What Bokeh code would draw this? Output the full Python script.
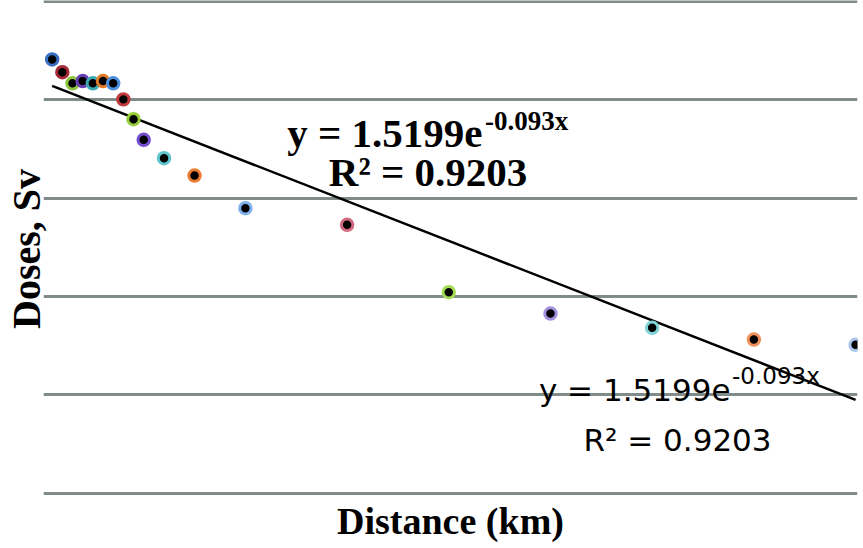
import math
from bokeh.plotting import figure
from bokeh.models import Range1d, FixedTicker, Label, ColumnDataSource
from bokeh.embed import file_html
from bokeh.resources import INLINE

# ---- data ----
distance_km = [1, 2, 3, 4, 5, 6, 7, 8, 9, 10, 12, 15, 20, 30, 40, 50, 60, 70, 80]
dose_sv = [2.57, 1.91, 1.47, 1.55, 1.47, 1.55, 1.47, 1.01, 0.635, 0.392,
           0.255, 0.170, 0.0791, 0.0537, 0.0111, 0.00673, 0.00482, 0.00366, 0.00324]
ring_colors = ["#3b6fc6", "#a8283a", "#8cc63f", "#6a40b8", "#3aaab4", "#e47a25",
               "#4a8fe0", "#c23a3e", "#94cc3a", "#7650d0", "#5cc6cc", "#ec7c34",
               "#80b0ea", "#d26a82", "#a4dc58", "#a290e0", "#80d4d8", "#f0905a", "#a9c6ec"]
grid_decades = [1e-4, 1e-3, 1e-2, 1e-1, 1, 10]
trend_a = 1.5199
trend_b = -0.093
eq_main = "y = 1.5199e"
eq_sup = "-0.093x"
eq_r2 = "R\u00b2 = 0.9203"

p = figure(width=863, height=548,
           x_range=Range1d(0.147, 80.19), y_range=Range1d(9.085e-5, 10.213),
           y_axis_type="log", output_backend="svg", toolbar_location=None,
           min_border_left=43, min_border_right=6, min_border_top=0, min_border_bottom=51)
p.outline_line_color = None
p.background_fill_color = "white"
p.border_fill_color = "white"

p.xgrid.visible = False
p.ygrid.ticker = FixedTicker(ticks=grid_decades)
p.ygrid.grid_line_color = "#7f8c89"
p.ygrid.grid_line_width = 3


def style_axis(ax, label, size):
    ax.ticker = FixedTicker(ticks=[])
    ax.axis_label = label
    ax.axis_label_text_font = "Liberation Serif"
    ax.axis_label_text_font_style = "bold"
    ax.axis_label_text_font_size = size
    ax.axis_label_text_color = "black"
    ax.axis_line_color = None
    ax.major_tick_line_color = None
    ax.minor_tick_line_color = None
    ax.major_tick_out = 0
    ax.major_tick_in = 0
    ax.minor_tick_out = 0
    ax.major_label_standoff = 0


style_axis(p.xaxis[0], "Distance (km)", "38px")
p.xaxis[0].axis_label_standoff = 2
style_axis(p.yaxis[0], "Doses, Sv", "40px")
p.yaxis[0].axis_label_standoff = -5

# trend line from the displayed equation, over the measured distance span
tx = [distance_km[0], distance_km[-1]]
ty = [trend_a * math.exp(trend_b * v) for v in tx]
p.line(tx, ty, line_color="black", line_width=2.5)

src = ColumnDataSource(dict(x=distance_km, y=dose_sv, c=ring_colors))
p.scatter("x", "y", source=src, size=11.5, fill_color="black", line_color="c", line_width=3)

# bold serif equation
p.add_layout(Label(x=43.31, y=0.462, text=eq_main, text_align="right", text_baseline="alphabetic",
                   text_font="Liberation Serif", text_font_style="bold", text_font_size="41px",
                   text_color="black"))
p.add_layout(Label(x=43.55, y=0.616, text=eq_sup, text_align="left", text_baseline="alphabetic",
                   text_font="Liberation Serif", text_font_style="bold", text_font_size="27px",
                   text_color="black"))
p.add_layout(Label(x=37.96, y=0.1837, text=eq_r2, text_align="center", text_baseline="alphabetic",
                   text_font="Liberation Serif", text_font_style="bold", text_font_size="41px",
                   text_color="black"))

# sans equation
p.add_layout(Label(x=67.70, y=1.124e-3, text=eq_main, text_align="right", text_baseline="alphabetic",
                   text_font="DejaVu Sans", text_font_size="31px", text_color="black"))
p.add_layout(Label(x=67.85, y=1.578e-3, text=eq_sup, text_align="left", text_baseline="alphabetic",
                   text_font="DejaVu Sans", text_font_size="23px", text_color="black"))
p.add_layout(Label(x=62.49, y=3.49e-4, text=eq_r2, text_align="center", text_baseline="alphabetic",
                   text_font="DejaVu Sans", text_font_size="31px", text_color="black"))

open("out.html", "w").write(file_html(p, INLINE))
